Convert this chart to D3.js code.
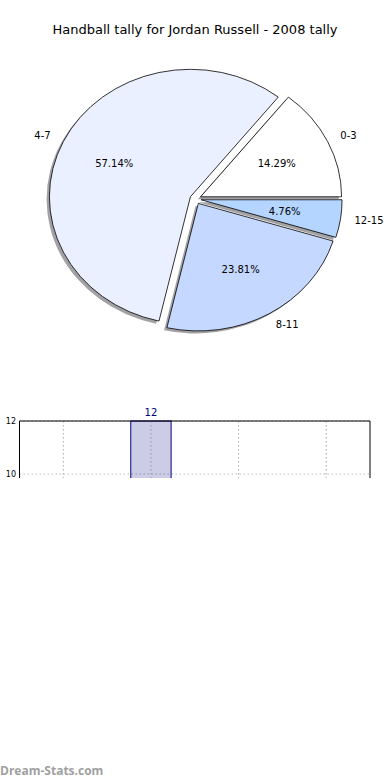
<!DOCTYPE html>
<html>
<head>
<meta charset="utf-8">
<script src="https://cdn.jsdelivr.net/npm/d3@7/dist/d3.min.js"></script>
<style>
body { margin: 0; background: #fff; }
svg { display: block; font-family: "DejaVu Sans", sans-serif; }
.wedge { stroke: #000; stroke-width: 0.8; }
.grid { stroke: #b8b8b8; stroke-width: 1; stroke-dasharray: 1.5,2.5; }
</style>
</head>
<body>
<svg></svg>
<script>
var width = 390, height = 780;

// pie data
var labels = ["0-3", "4-7", "8-11", "12-15"];
var counts = [3, 12, 5, 1];
var colors = ["#ffffff", "#eaf0ff", "#c5d8ff", "#b4d5ff"];
var explode = [0.04, 0.04, 0.04, 0.04];

// bar data (lower panel)
var barPos = [1];
var barValues = [12];
var xTicks = [0, 1, 2, 3];
var yTicks = [10, 12];

var svg = d3.select("svg").attr("width", width).attr("height", height);

svg.append("text")
    .attr("x", 195).attr("y", 34)
    .attr("text-anchor", "middle")
    .style("font-size", "13px")
    .text("Handball tally for Jordan Russell - 2008 tally");

// ---- pie ----
var cx = 195.5, cy = 199, rx = 141, ry = 127.5;
var total = d3.sum(counts);
var pie = d3.pie().sort(null).startAngle(Math.PI / 2).endAngle(Math.PI / 2 - 2 * Math.PI);
var arcs = pie(counts);
var arc = d3.arc().innerRadius(0).outerRadius(1);

var pieG = svg.append("g");
arcs.forEach(function(d, i) {
  var a = (d.startAngle + d.endAngle) / 2;
  var ox = cx + explode[i] * rx * Math.sin(a);
  var oy = cy - explode[i] * ry * Math.cos(a);
  // shadow first, then the wedge
  pieG.append("path")
      .attr("d", arc(d))
      .attr("transform", "translate(" + (ox - 0.02 * rx) + "," + (oy + 0.02 * ry) + ") scale(" + rx + "," + ry + ")")
      .attr("fill", "rgb(70,70,75)")
      .attr("fill-opacity", 0.5);
  pieG.append("path")
      .attr("class", "wedge")
      .attr("d", arc(d))
      .attr("vector-effect", "non-scaling-stroke")
      .attr("transform", "translate(" + ox + "," + oy + ") scale(" + rx + "," + ry + ")")
      .attr("fill", colors[i]);
  d.ox = ox; d.oy = oy; d.mid = a;
});

arcs.forEach(function(d, i) {
  var sx = Math.sin(d.mid), sy = -Math.cos(d.mid);
  pieG.append("text")
      .attr("x", d.ox + 1.1 * rx * sx)
      .attr("y", d.oy + 1.1 * ry * sy)
      .attr("dy", "0.35em")
      .attr("text-anchor", sx > 0 ? "start" : "end")
      .style("font-size", "10px")
      .text(labels[i]);
  pieG.append("text")
      .attr("x", d.ox + 0.6 * rx * sx)
      .attr("y", d.oy + 0.6 * ry * sy)
      .attr("dy", "0.35em")
      .attr("text-anchor", "middle")
      .style("font-size", "10px")
      .text(d3.format(".2f")(100 * d.data / total) + "%");
});

// ---- lower bar panel (cut off below) ----
var x = d3.scaleLinear().domain([-0.5, 3.5]).range([19.5, 370]);
var y = d3.scaleLinear().domain([10, 12]).range([474, 421]);
var clipBottom = 478;

svg.append("clipPath").attr("id", "cut")
  .append("rect").attr("x", 0).attr("y", 0).attr("width", width).attr("height", clipBottom);

var bg = svg.append("g").attr("clip-path", "url(#cut)");

bg.selectAll(".gx").data(xTicks).enter().append("line")
    .attr("class", "grid")
    .attr("x1", function(d) { return x(d); }).attr("x2", function(d) { return x(d); })
    .attr("y1", y(12)).attr("y2", clipBottom);
bg.selectAll(".gy").data(yTicks).enter().append("line")
    .attr("class", "grid")
    .attr("x1", x(-0.5)).attr("x2", x(3.5))
    .attr("y1", function(d) { return y(d); }).attr("y2", function(d) { return y(d); });

var bw = 0.46;
bg.selectAll(".bar").data(barValues).enter().append("rect")
    .attr("x", function(d, i) { return x(barPos[i] - bw / 2); })
    .attr("y", function(d) { return y(d); })
    .attr("width", x(bw) - x(0))
    .attr("height", function(d) { return clipBottom + 5 - y(d); })
    .attr("fill", "#000080").attr("fill-opacity", 0.2)
    .attr("stroke", "#000080").attr("stroke-width", 1);

bg.selectAll(".gx2").data(xTicks).enter().append("line")
    .attr("class", "grid")
    .attr("x1", function(d) { return x(d); }).attr("x2", function(d) { return x(d); })
    .attr("y1", y(12)).attr("y2", clipBottom)
    .attr("stroke-opacity", 0.6);

// frame: top, left, right
bg.append("path")
    .attr("d", "M" + x(-0.5) + "," + clipBottom + "V" + y(12) + "H" + x(3.5) + "V" + clipBottom)
    .attr("fill", "none").attr("stroke", "#000").attr("stroke-width", 1);

svg.selectAll(".barlab").data(barValues).enter().append("text")
    .attr("x", function(d, i) { return x(barPos[i]); })
    .attr("y", function(d) { return y(d) - 5; })
    .attr("text-anchor", "middle")
    .attr("fill", "#000080")
    .style("font-size", "10px")
    .text(function(d) { return d; });

svg.selectAll(".ylab").data(yTicks).enter().append("text")
    .attr("x", 16).attr("y", function(d) { return y(d); })
    .attr("dy", "0.35em")
    .attr("text-anchor", "end")
    .style("font-size", "8px")
    .text(function(d) { return d; });

svg.append("text")
    .attr("x", 0).attr("y", 775)
    .attr("fill", "#a0a0a0")
    .style("font-family", "'Open Sans', sans-serif")
    .style("font-weight", "bold")
    .style("font-size", "12px")
    .text("Dream-Stats.com");
</script>
</body>
</html>
